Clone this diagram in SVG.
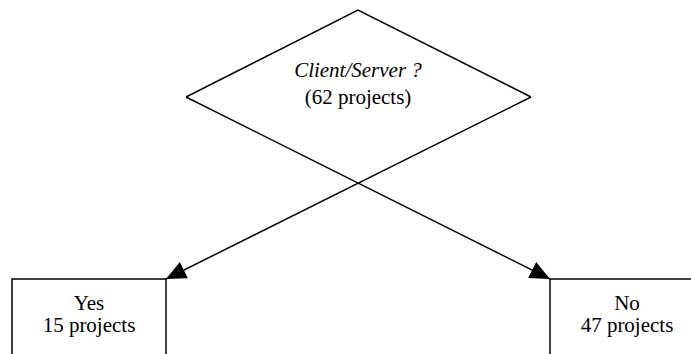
<svg xmlns="http://www.w3.org/2000/svg" width="691" height="354" viewBox="0 0 691 354" font-family="'Times New Roman', 'Liberation Serif', serif">
  <defs>
    <!-- filled arrowhead, tip at the path end -->
    <marker id="arrow" viewBox="0 0 20 18" refX="20" refY="9" markerWidth="20" markerHeight="18" markerUnits="userSpaceOnUse" orient="auto">
      <path d="M0,0 L20,9 L0,18 Z" fill="#000000"/>
    </marker>
  </defs>
  <rect width="691" height="354" fill="#ffffff"/>

  <!-- decision: upper half of the diamond; its lower edges continue as the two branches -->
  <g id="decision">
    <polyline points="186,97 358,10 531,97" fill="none" stroke="#000000" stroke-width="1.5"/>
    <text x="358" y="77" font-family="Times New Roman" font-size="21" font-style="italic" text-anchor="middle">Client/Server ?</text>
    <text x="358" y="104" font-family="Times New Roman" font-size="21" text-anchor="middle">(62 projects)</text>
  </g>

  <g id="yes">
    <polyline points="12,354 12,279 166,279 166,354" fill="none" stroke="#000000" stroke-width="1.5"/>
    <text x="89" y="310" font-family="Times New Roman" font-size="21" text-anchor="middle">Yes</text>
    <text x="89" y="332" font-family="Times New Roman" font-size="21" text-anchor="middle">15 projects</text>
  </g>

  <g id="no">
    <polyline points="700,279 550,279 550,354" fill="none" stroke="#000000" stroke-width="1.5"/>
    <text x="627" y="310" font-family="Times New Roman" font-size="21" text-anchor="middle">No</text>
    <text x="627" y="332" font-family="Times New Roman" font-size="21" text-anchor="middle">47 projects</text>
  </g>

  <g id="connectors" fill="none" stroke="#000000" stroke-width="1.5">
    <line x1="531" y1="97" x2="166" y2="279" marker-end="url(#arrow)"/>
    <line x1="186" y1="97" x2="550" y2="279" marker-end="url(#arrow)"/>
  </g>
</svg>
